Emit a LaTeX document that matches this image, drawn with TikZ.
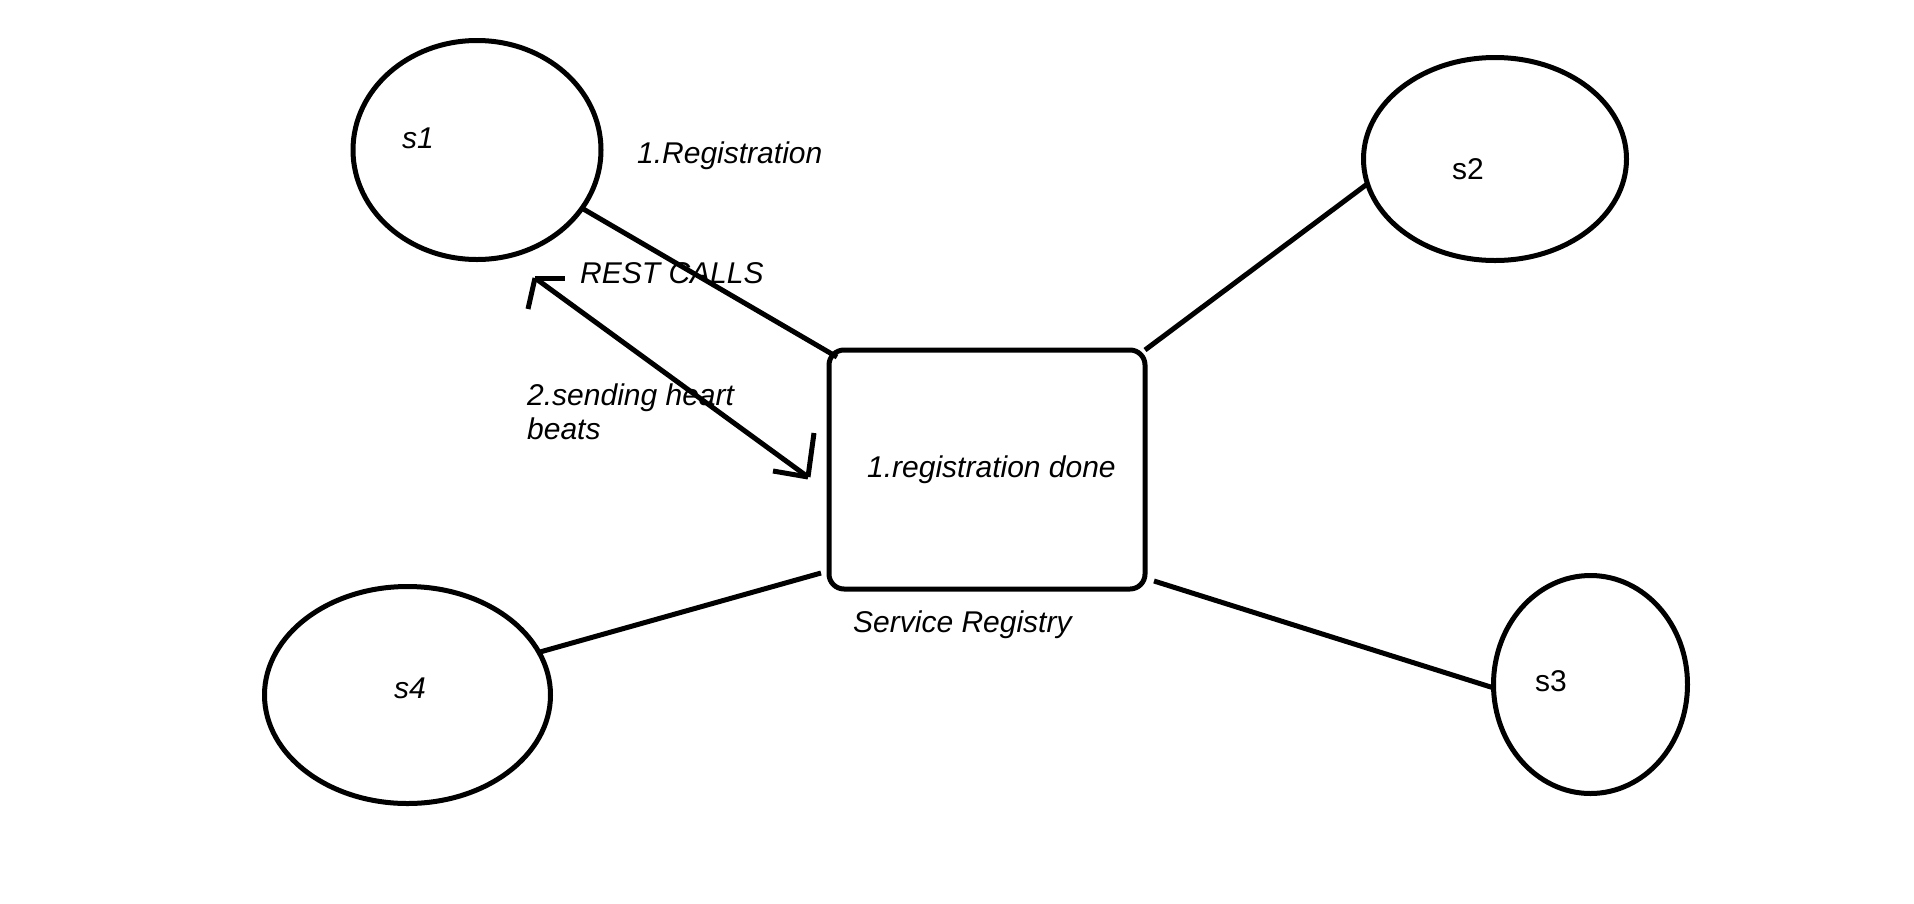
\documentclass[tikz,border=0pt]{standalone}
\usepackage{fontspec}
\setmainfont{Liberation Sans}
\usetikzlibrary{shapes.geometric}
\begin{document}
\begin{tikzpicture}[x=1pt,y=-1pt,
  every node/.style={font=\fontsize{30}{34}\selectfont},
  ink/.style={line width=5pt, line join=round},
  svc/.style={ink, draw, ellipse, inner sep=0pt, outer sep=0pt},
  lbl/.style={inner sep=0pt, anchor=base west, font=\fontsize{30}{34}\selectfont\itshape},
  ulbl/.style={inner sep=0pt, anchor=base west, font=\fontsize{30}{34}\selectfont},
  regbox/.style={ink, draw, rectangle, rounded corners=15pt, inner sep=0pt, outer sep=0pt}
]
\useasboundingbox[fill=white] (0,0) rectangle (1914,903);

% services
\node[svc, minimum width=248pt, minimum height=219pt] (s1) at (477,150) {};
\node[svc, minimum width=263pt, minimum height=203pt] (s2) at (1495,159) {};
\node[svc, minimum width=194pt, minimum height=218pt] (s3) at (1590.5,684.5) {};
\node[svc, minimum width=286pt, minimum height=217pt] (s4) at (407.5,695) {};

% registry
\node[regbox, minimum width=316pt, minimum height=239pt] (reg) at (987,469.5) {};

% labels
\node[lbl]  (t1) at (402,148) {s1};
\node[ulbl] (t2) at (1452,179) {s2};
\node[ulbl] (t3) at (1535,691) {s3};
\node[lbl]  (t4) at (394,698) {s4};
\node[lbl]  (treg) at (637,163) {1.Registration};
\node[lbl]  (trest) at (580,283) {REST CALLS};
\node[lbl]  (thb1) at (527,405) {2.sending heart};
\node[lbl]  (thb2) at (527,439) {beats};
\node[lbl]  (tdone) at (867,477) {1.registration done};
\node[lbl]  (tsr) at (853,632) {Service Registry};

% connectors
\draw[ink] (s1.-29) -- ([shift={(8,7)}]reg.north west);
\draw[ink] (s2.191) -- (reg.north east);
\draw[ink] ([shift={(9,-8)}]reg.south east) -- (s3.182);
\draw[ink] (s4.18.6) -- ([shift={(-8,-16)}]reg.south west);

% REST CALLS double arrow (hand drawn)
\coordinate (rc1) at (535,278);
\coordinate (rc2) at (808,477);
\draw[ink] (rc1) -- (rc2);
\draw[ink] (rc1) -- ++(30,0);
\draw[ink] (rc1) -- ++(-7,31);
\draw[ink] (rc2) -- ++(6,-44);
\draw[ink] (rc2) -- ++(-35,-6);
\end{tikzpicture}
\end{document}
